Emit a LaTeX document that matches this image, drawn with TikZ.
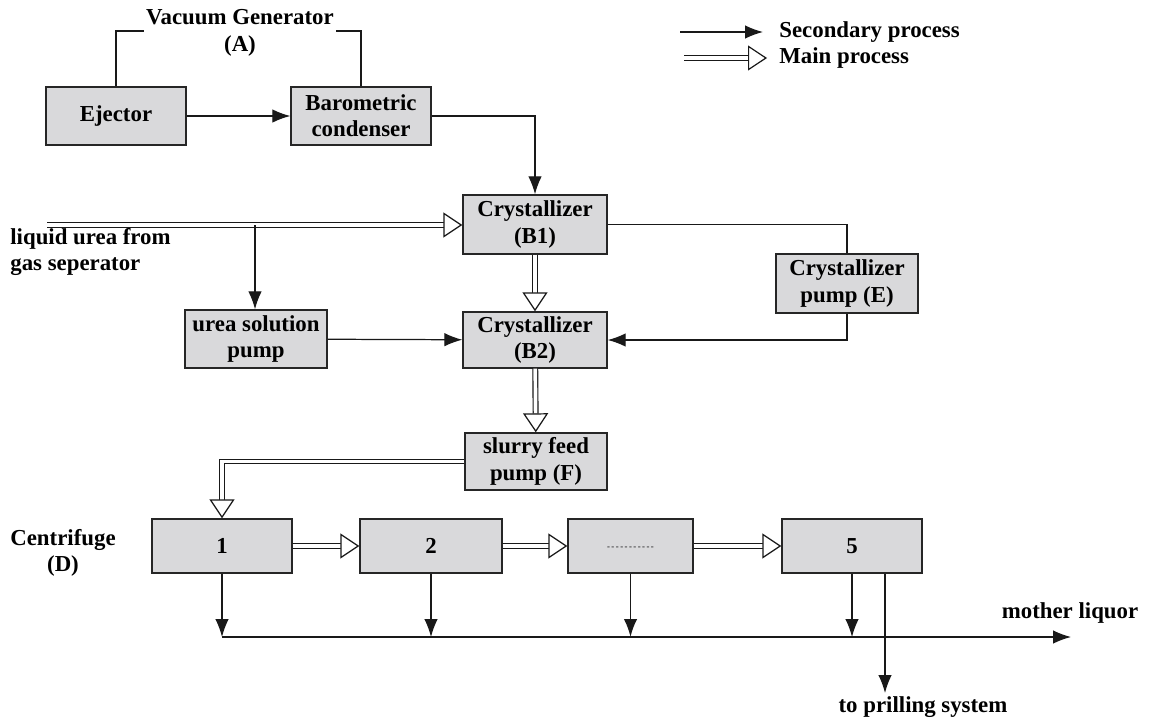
\documentclass[tikz,border=0pt]{standalone}
\usepackage{fontspec}
\setmainfont{Liberation Serif}
\usepackage{tikz}
\usetikzlibrary{arrows.meta,positioning,calc}
\definecolor{boxgray}{RGB}{217,217,219}

\begin{document}
\begin{tikzpicture}[
  x=0.02cm, y=-0.02cm,
  font=\bfseries\fontsize{13}{15}\selectfont,
  unit/.style={draw=black!85, fill=boxgray, line width=0.8pt,
               align=center, inner sep=2pt,
               minimum width=2.8cm, minimum height=1.16cm},
  secarr/.style={-{Latex[length=0.36cm, width=0.27cm]}, line width=0.7pt, draw=black!90},
  mainarr/.style={double, double distance=2.1pt, line width=0.65pt, draw=black!90,
                  -{Triangle[length=0.38cm, width=0.5cm, fill=white, line width=0.7pt]}},
  plainline/.style={line width=0.7pt, draw=black!90},
  lbl/.style={align=center, inner sep=1pt}
]
  \useasboundingbox (0,0) rectangle (1151,720);

  % --- Vacuum generator (A) ---
  \node[unit] (ejector) at (116,116) {Ejector};
  \node[unit] (baro) at (361,116) {Barometric\\condenser};
  \node[lbl] (vacgen) at (240,33) {Vacuum Generator\\(A)};
  \draw[plainline] (ejector.north) |- ([yshift=0.04cm]vacgen.west);
  \draw[plainline] (baro.north) |- ([yshift=0.04cm]vacgen.east);
  \draw[secarr] (ejector) -- (baro);

  % --- Crystallizers ---
  \node[unit, minimum width=2.88cm, minimum height=1.18cm] (b1) at (535,224.5) {Crystallizer\\(B1)};
  \node[unit, minimum width=2.88cm, minimum height=1.12cm] (b2) at (535,340) {Crystallizer\\(B2)};
  \node[unit, minimum width=2.84cm] (usp) at (256,339) {urea solution\\pump};
  \node[unit, minimum width=2.84cm, minimum height=1.18cm] (epump) at (847,283.5) {Crystallizer\\pump (E)};
  \node[unit, minimum width=2.84cm, minimum height=1.14cm] (slurry) at (536,461.5) {slurry feed\\pump (F)};

  \draw[secarr] (baro.east) -| (b1.north);

  % feed from gas separator
  \coordinate (feed) at (47,225);
  \coordinate (tap) at (255,225);
  \node[anchor=north west, align=left, inner sep=0pt] (feedlbl) at (10,228)
       {liquid urea from\\gas seperator};
  \draw[mainarr] (feed) -- (feed -| b1.west);
  \draw[secarr] (tap) -- (tap |- usp.north);

  \draw[secarr] (usp) -- (b2);
  \draw[mainarr] (b1) -- (b2);
  \draw[plainline] (b1.east) -| (epump.north);
  \draw[secarr] (epump.south) |- (b2.east);
  \draw[mainarr] (b2) -- (slurry);

  % --- Centrifuge (D) ---
  \node[lbl] (centlbl) at (63,553) {Centrifuge\\(D)};
  \node[unit, minimum height=1.08cm] (c1) at (222,546) {1};
  \node[unit, minimum width=2.84cm, minimum height=1.08cm] (c2) at (431,546) {2};
  \node[unit, minimum width=2.5cm, minimum height=1.08cm] (c3) at (630.5,546)
       {\raisebox{-0.6ex}{\tiny\mdseries-\,-\,-\,-\,-\,-\,-\,-\,-\,-\,-}};
  \node[unit, minimum height=1.08cm] (c5) at (852,546) {5};

  \draw[mainarr] (slurry.west) -| (c1.north);
  \draw[mainarr] (c1) -- (c2);
  \draw[mainarr] (c2) -- (c3);
  \draw[mainarr] (c3) -- (c5);

  % --- mother liquor and product ---
  \coordinate (mlend) at (1071,637);
  \draw[secarr] (c1.south |- mlend) -- (mlend);
  \foreach \c in {c1,c2,c5}
    \draw[secarr] (\c.south) -- (\c.south |- mlend);
  \draw[secarr, line width=1.1pt] (c3.south) -- (c3.south |- mlend);
  \node[anchor=base, inner sep=0pt] (mllbl) at (1070,618) {mother liquor};

  \coordinate (prill) at (885,693);
  \draw[secarr] (c5.south -| prill) -- (prill);
  \node[anchor=base, inner sep=0pt] (prilllbl) at (923,712) {to prilling system};

  % --- legend ---
  \coordinate (secA) at (680,32);
  \coordinate (secB) at (763,32);
  \coordinate (mainA) at (684,58);
  \coordinate (mainB) at (767,58);
  \draw[secarr] (secA) -- (secB);
  \draw[mainarr] (mainA) -- (mainB);
  \node[anchor=west, inner sep=0pt] (seclbl) at (779,32) {Secondary process};
  \node[anchor=west, inner sep=0pt] (mainlbl) at (779,58) {Main process};
\end{tikzpicture}
\end{document}
